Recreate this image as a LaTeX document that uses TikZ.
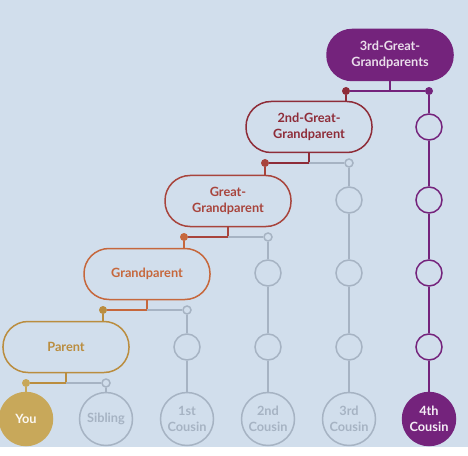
\documentclass[tikz,border=0pt]{standalone}
\usepackage{fontspec}
\setmainfont{Lato}
\usepackage{tikz}

\definecolor{bg}{HTML}{D1DEEC}
\definecolor{gold}{HTML}{BA8D3F}
\definecolor{youfill}{HTML}{C8A85A}
\definecolor{rust}{HTML}{C6673C}
\definecolor{brick}{HTML}{A8443C}
\definecolor{maroon}{HTML}{8E2C38}
\definecolor{plum}{HTML}{74237C}
\definecolor{ash}{HTML}{A6B3C3}

\tikzset{
  famfont/.style={font=\bfseries\fontsize{12.8}{16.5}\selectfont},
  pill/.style={rectangle, rounded corners=25bp, draw=#1, text=#1, line width=1.5bp, minimum width=126bp, minimum height=51bp, align=center, famfont},
  person/.style={circle, draw=#1, text=#1, line width=1.5bp, minimum size=53bp, inner sep=0pt, align=center, famfont},
  knot/.style={circle, draw=#1, line width=1.5bp, minimum size=26bp, inner sep=0pt},
  dot/.style={circle, fill=#1, minimum size=8bp, inner sep=0pt},
  opendot/.style={circle, draw=#1, fill=bg, line width=1.5bp, minimum size=8bp, inner sep=0pt},
  link/.style={line width=1.5bp, draw=#1}
}

\begin{document}
\begin{tikzpicture}[x=1bp,y=-1bp]
    \useasboundingbox (0,0) rectangle (468,456);
    \fill[bg] (0,0) rectangle (468,447);

    % generations
    \node[pill=gold] (parent) at (66,347){Parent};
    \node[pill=rust] (grand) at (147,274){Grandparent};
    \node[pill=brick] (great) at (228,201){Great-\\Grandparent};
    \node[pill=maroon] (great2) at (309,127){2nd-Great-\\Grandparent};
    \node[pill=plum, fill=plum, text=plum!15] (great3) at (390,55){3rd-Great-\\Grandparents};

    % bottom row
    \node[person=youfill, fill=youfill, text=white!92!youfill] (you) at (26,419){You};
    \node[person=ash] (sibling) at (106,419){Sibling};
    \node[person=ash] (cousin1) at (187,419){1st\\Cousin};
    \node[person=ash] (cousin2) at (268,419){2nd\\Cousin};
    \node[person=ash] (cousin3) at (349,419){3rd\\Cousin};
    \node[person=plum, fill=plum, text=white!92!plum] (cousin4) at (429,419){4th\\Cousin};

    % in-between generations
    \node[knot=ash] (k1a) at (187,347){};
    \node[knot=ash] (k2a) at (268,347){};
    \node[knot=ash] (k2b) at (268,273){};
    \node[knot=ash] (k3a) at (349,347){};
    \node[knot=ash] (k3b) at (349,273){};
    \node[knot=ash] (k3c) at (349,200){};
    \node[knot=plum] (k4a) at (429,347){};
    \node[knot=plum] (k4b) at (429,273){};
    \node[knot=plum] (k4c) at (429,200){};
    \node[knot=plum] (k4d) at (429,127){};

    % branch points
    \coordinate (j0) at (66,383);
    \coordinate (j1) at (147,310);
    \coordinate (j2) at (228,237);
    \coordinate (j3) at (309,163);
    \coordinate (j4) at (390,91);
    \node[dot=youfill] (d0) at (26,383){};
    \node[opendot=ash] (t0) at (106,383){};
    \node[dot=gold] (d1) at (103,310){};
    \node[opendot=ash] (t1) at (187,310){};
    \node[dot=rust] (d2) at (184,237){};
    \node[opendot=ash] (t2) at (268,237){};
    \node[dot=brick] (d3) at (265,163){};
    \node[opendot=ash] (t3) at (349,163){};
    \node[dot=maroon] (d4) at (346,91){};
    \node[dot=plum] (t4) at (429,91){};

    % parent -> you, sibling
    \path[link=gold] (parent) -- (j0) -- (d0);
    \path[link=youfill] (d0) -- (you);
    \path[link=ash] (j0) -- (t0) -- (sibling);
    % grandparent
    \path[link=rust] (grand) -- (j1) -- (d1);
    \path[link=gold] (d1) -- (d1 |- parent.north);
    \path[link=ash] (j1) -- (t1) -- (k1a) -- (cousin1);
    % great-grandparent
    \path[link=brick] (great) -- (j2) -- (d2);
    \path[link=rust] (d2) -- (d2 |- grand.north);
    \path[link=ash] (j2) -- (t2) -- (k2b) -- (k2a) -- (cousin2);
    % 2nd-great
    \path[link=maroon] (great2) -- (j3) -- (d3);
    \path[link=brick] (d3) -- (d3 |- great.north);
    \path[link=ash] (j3) -- (t3) -- (k3c) -- (k3b) -- (k3a) -- (cousin3);
    % 3rd-great
    \path[link=plum] (great3) -- (j4) -- (d4);
    \path[link=maroon] (d4) -- (d4 |- great2.north);
    \path[link=plum] (j4) -- (t4) -- (k4d) -- (k4c) -- (k4b) -- (k4a) -- (cousin4);
\end{tikzpicture}
\end{document}
